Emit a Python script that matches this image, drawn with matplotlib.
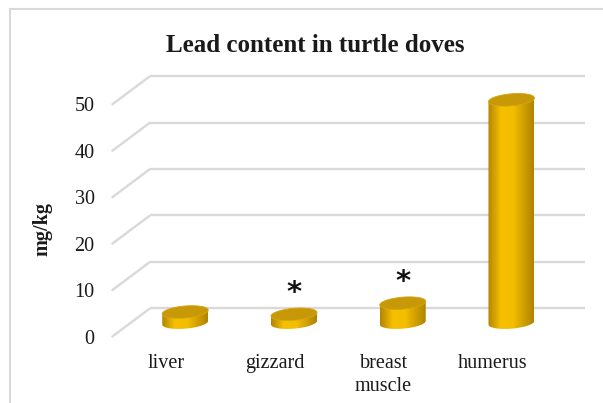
import numpy as np
import matplotlib
matplotlib.use("Agg")
import matplotlib.pyplot as plt
from matplotlib.patches import Polygon
from matplotlib.colors import LinearSegmentedColormap
from matplotlib.lines import Line2D
from matplotlib.transforms import offset_copy

# ---- data ----
categories = ["liver", "gizzard", "breast\nmuscle", "humerus"]
values = [2.3, 1.8, 4.2, 48.0]
stars = ["", "*", "*", ""]
yticks = [0, 10, 20, 30, 40, 50]
title = "Lead content in turtle doves"
ylabel = "mg/kg"

SERIF = ["Liberation Serif", "DejaVu Serif"]

W, H = 603, 403
fig = plt.figure(figsize=(W / 100, H / 100), dpi=100)
ax = fig.add_axes([0, 0, 1, 1])
# pixel mapping: x px = 130.85 + (x+0.5)*108.75 ; y px(top) = 322.65 - v*4.643
XPX, X0 = 108.75, 130.85
YPX, Y0 = 4.643, 322.65
ax.set_xlim(-0.5 - X0 / XPX, -0.5 + (W - X0) / XPX)
ax.set_ylim((Y0 - H) / YPX, Y0 / YPX)
ax.axis("off")

# depth offsets (half depth) in data units
ddx = 19.15 / XPX
ddy = 14.35 / YPX
grid_c = "#d9d9d9"

for v in yticks:
    ax.plot([-0.5 + ddx, 3.5 + ddx], [v + ddy, v + ddy], color=grid_c, lw=1.7,
            solid_capstyle="butt", zorder=1)
    ax.plot([-0.5 - ddx, -0.5 + ddx], [v - ddy, v + ddy], color=grid_c, lw=1.7,
            solid_capstyle="butt", zorder=1)
    tr = offset_copy(ax.transData, fig=fig, x=-17, y=-2, units="dots")
    ax.text(-0.5 - ddx, v - ddy, str(v), transform=tr, ha="right", va="center",
            fontsize=14.5, family=SERIF, color="#1a1a1a")

# category labels
for i, c in enumerate(categories):
    tr = offset_copy(ax.transData, fig=fig, x=0, y=-17, units="dots")
    ax.text(i - ddx, -ddy, c, transform=tr, ha="center", va="top",
            fontsize=14.5, family=SERIF, color="#1a1a1a", linespacing=1.3)

# cylinders
cmap = LinearSegmentedColormap.from_list(
    "gold", [(0, "#b38500"), (0.28, "#f6c000"), (0.55, "#f3be00"), (1.0, "#b08300")])
bw = 46 / XPX
rx = bw / 2
ry = 6.0 / YPX
tilt = 0.08 * XPX / YPX  # pixel slope converted to data units
t = np.linspace(0, 2 * np.pi, 120)

for i, v in enumerate(values):
    c = i
    tb = np.linspace(np.pi, 2 * np.pi, 60)
    bx = c + rx * np.cos(tb)
    by = ry * np.sin(tb) + tilt * rx * np.cos(tb)
    tx = c + rx * np.cos(tb[::-1])
    ty = v + tilt * rx * np.cos(tb[::-1])
    body = np.column_stack([np.concatenate([bx, tx]), np.concatenate([by, ty])])
    poly = Polygon(body, closed=True, facecolor="none", edgecolor="none", zorder=3)
    ax.add_patch(poly)
    grad = np.linspace(0, 1, 200).reshape(1, -1)
    im = ax.imshow(grad, extent=[c - rx, c + rx, -ry - 2, v + ry + 2], aspect="auto",
                   cmap=cmap, zorder=3, interpolation="bilinear")
    im.set_clip_path(poly)
    ex = c + rx * np.cos(t)
    ey = v + ry * np.sin(t) + tilt * rx * np.cos(t)
    ax.add_patch(Polygon(np.column_stack([ex, ey]), closed=True, facecolor="#c79808",
                         edgecolor="#d6a60c", lw=0.6, zorder=4))
    if stars[i]:
        tr = offset_copy(ax.transData, fig=fig, x=0, y=21, units="dots")
        ax.text(c, v, stars[i], transform=tr, ha="center", va="center",
                fontsize=21, fontweight="bold", family=["DejaVu Sans"], color="#111111",
                zorder=5)

ax.set_xlim(-0.5 - X0 / XPX, -0.5 + (W - X0) / XPX)
ax.set_ylim((Y0 - H) / YPX, Y0 / YPX)

# title and y label
fig.text(315 / W, 1 - 46 / H, title, ha="center", va="center", fontsize=18,
         fontweight="bold", family=SERIF, color="#1a1a1a")
fig.text(42.5 / W, 1 - 229 / H, ylabel, ha="center", va="center", rotation=90,
         fontsize=14.5, fontweight="bold", family=SERIF, color="#1a1a1a")

# chart border (top and left visible)
fig.add_artist(Line2D([10 / W, 1], [1 - 8.5 / H, 1 - 8.5 / H], color="#d9d9d9", lw=1.5))
fig.add_artist(Line2D([10 / W, 10 / W], [0, 1 - 8.5 / H], color="#d9d9d9", lw=1.5))

fig.savefig("out.png", dpi=100)
